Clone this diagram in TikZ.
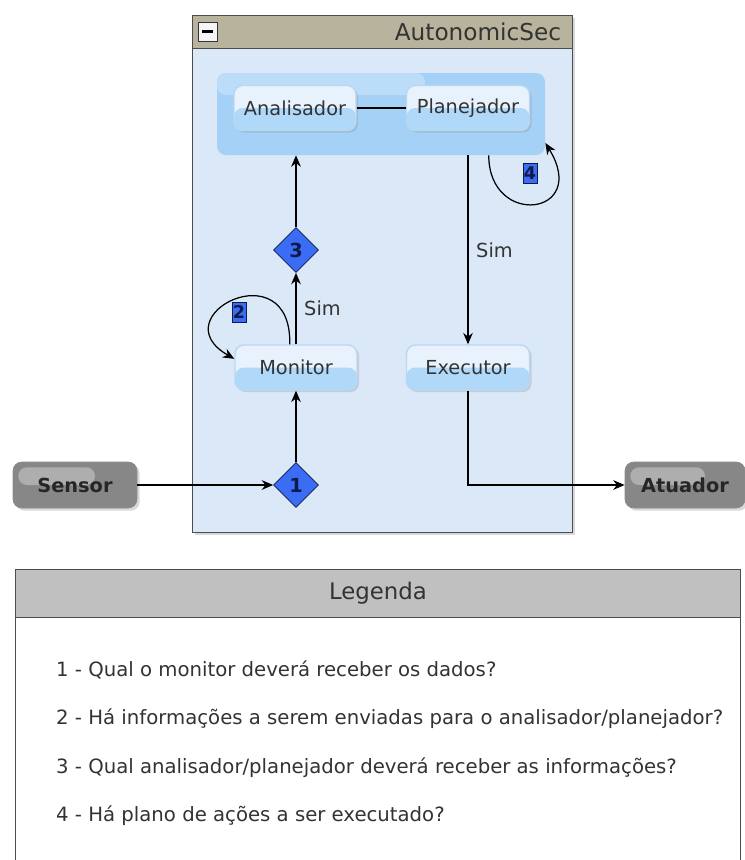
\documentclass[tikz,border=0pt]{standalone}
\usepackage{fontspec}
\setmainfont{DejaVu Sans}
\usetikzlibrary{positioning, calc, arrows.meta, shapes.geometric, shadows}

\definecolor{corpoazul}{HTML}{DAE8F8}
\definecolor{barratitulo}{HTML}{B7B39C}
\definecolor{grupoazul}{HTML}{A5D1F7}
\definecolor{grupoclaro}{HTML}{BCDDF9}
\definecolor{modtopo}{HTML}{E7F2FD}
\definecolor{modbase}{HTML}{B0D8F9}
\definecolor{modborda}{HTML}{BBD7EF}
\definecolor{losango}{HTML}{3A6CF4}
\definecolor{marinho}{HTML}{0E1A4A}
\definecolor{cinzaext}{HTML}{878787}
\definecolor{cinzaluz}{HTML}{AEAEAE}
\definecolor{cabecalho}{HTML}{C0C0C0}

\begin{document}
\begin{tikzpicture}[
    modulo/.style = {rectangle, rounded corners=5pt, draw=modborda, thick,
                     fill=modtopo, minimum width=2.44cm, minimum height=0.9cm,
                     font=\fontsize{11}{13}\selectfont, text=black!80,
                     path picture={\fill[modbase]
                        (path picture bounding box.west) rectangle
                        (path picture bounding box.south east);},
                     drop shadow={shadow xshift=1.2pt, shadow yshift=-1.2pt,
                                  opacity=0.25}},
    externo/.style = {rectangle, rounded corners=5pt, draw=black!45,
                      fill=cinzaext, minimum width=2.48cm, minimum height=0.92cm,
                      font=\bfseries\fontsize{11}{13}\selectfont, text=black!85,
                      path picture={\fill[cinzaluz, rounded corners=5pt]
                        ([shift={(3pt,-3pt)}]path picture bounding box.north west)
                        rectangle ([xshift=0.4cm]path picture bounding box.center);},
                      drop shadow={shadow xshift=1.5pt, shadow yshift=-1.5pt,
                                   opacity=0.3}},
    decisao/.style = {diamond, aspect=1, draw=marinho, fill=losango,
                      inner sep=0pt, minimum width=0.9cm, minimum height=0.9cm,
                      font=\bfseries\fontsize{11}{13}\selectfont, text=marinho},
    marca/.style   = {rectangle, draw=marinho, fill=losango, inner sep=0pt,
                      minimum width=0.28cm, minimum height=0.4cm,
                      font=\bfseries\fontsize{10}{12}\selectfont, text=marinho},
    arr/.style     = {line width=0.7pt, draw=black,
                      -{Stealth[length=6.5pt, width=5.5pt]}},
    linha/.style   = {line width=0.7pt, draw=black},
    rot/.style     = {font=\fontsize{11}{13}\selectfont, text=black!80},
    item/.style    = {anchor=west, font=\fontsize{11.2}{13}\selectfont,
                      text=black!80},
]

\useasboundingbox (0,0) rectangle (14.9,-17.2);

%% ---- Layout coordinates ----
\def\xEsq{5.92}
\def\xDir{9.36}
\def\yTopo{-2.16}
\def\yMeio{-7.35}
\def\yBase{-9.70}

%% ==================================================================
%% CONTAINER AutonomicSec
%% ==================================================================

\node[rectangle, draw=black!70, fill=corpoazul, minimum width=7.6cm,
      minimum height=10.34cm,
      drop shadow={shadow xshift=1.5pt, shadow yshift=-1.5pt, opacity=0.3}]
    (secbox) at (7.64, -5.47) {};
\node[rectangle, draw=black!70, fill=barratitulo, minimum width=7.6cm,
      minimum height=0.66cm, anchor=north] (sectitulo) at (secbox.north) {};
\node[anchor=east, font=\fontsize{13.2}{15}\selectfont, text=black!80]
    (nomesec) at ([xshift=-0.1cm]sectitulo.east) {AutonomicSec};
\node[rectangle, draw=black!80, fill=black!4, minimum size=0.38cm,
      inner sep=0pt, anchor=west] (minimizar)
    at ([xshift=0.12cm]sectitulo.west) {\rule{6pt}{1.4pt}};

%% ---- Group Analisador / Planejador ----
\node[rectangle, rounded corners=5pt, fill=grupoazul, minimum width=6.56cm,
      minimum height=1.64cm,
      path picture={\fill[grupoclaro, rounded corners=5pt]
        (path picture bounding box.north west) rectangle
        ([shift={(4.16cm,-0.44cm)}]path picture bounding box.north west);}]
    (grupo) at (7.62, -2.28) {};

%% ==================================================================
%% NODES
%% ==================================================================

\node[modulo] (analisador) at (\xEsq - 0.02, \yTopo) {Analisador};
\node[modulo, minimum width=2.46cm] (planejador) at (\xDir, \yTopo) {Planejador};

\node[decisao] (decisao3) at (\xEsq, -5.00) {3};
\node[modulo] (monitor) at (\xEsq, \yMeio) {Monitor};
\node[modulo, minimum width=2.46cm] (executor) at (\xDir, \yMeio) {Executor};
\node[decisao] (decisao1) at (\xEsq, \yBase) {1};

\node[externo] (sensor) at (1.50, \yBase) {Sensor};
\node[externo, minimum width=2.4cm] (atuador) at (13.70, \yBase) {Atuador};

\node[marca] (marca2) at (4.78, -6.24) {2};
\node[marca] (marca4) at (10.60, -3.46) {4};

%% ==================================================================
%% CONNECTIONS
%% ==================================================================

\draw[linha] (analisador.east) -- (planejador.west);

\draw[arr] (sensor.east) -- (decisao1.west);
\draw[arr] (decisao1.north) -- (monitor.south);
\draw[arr] (monitor.north) -- node[rot, right=1pt] {Sim} (decisao3.south);
\draw[arr] (decisao3.north) -- (decisao3.north |- grupo.south);

\draw[arr] (executor.north |- grupo.south)
    -- node[rot, right=1pt] {Sim} (executor.north);
\draw[arr] (executor.south) |- (atuador.west);

%% loops 2 and 4
\draw[arr] (monitor.105) .. controls +(0.04,1.9) and +(-1.5,0.86)
    .. (monitor.172);
\draw[arr] (grupo.-21.7) .. controls +(0,-1.46) and +(0.9,-1.46)
    .. (grupo.-10);

%% ==================================================================
%% LEGENDA
%% ==================================================================

\node[rectangle, draw=black!70, fill=white, minimum width=14.5cm,
      minimum height=6.0cm, anchor=north] (legenda) at (7.56, -11.38) {};
\node[rectangle, draw=black!70, fill=cabecalho, minimum width=14.5cm,
      minimum height=0.96cm, anchor=north, font=\fontsize{13}{15}\selectfont,
      text=black!80] (legtitulo) at (legenda.north) {Legenda};

\node[item] (item1) at (1.0, -13.40) {1 - Qual o monitor deverá receber os dados?};
\node[item] (item2) at (1.0, -14.38)
    {2 - Há informações a serem enviadas para o analisador/planejador?};
\node[item] (item3) at (1.0, -15.36)
    {3 - Qual analisador/planejador deverá receber as informações?};
\node[item] (item4) at (1.0, -16.32) {4 - Há plano de ações a ser executado?};

\end{tikzpicture}
\end{document}
